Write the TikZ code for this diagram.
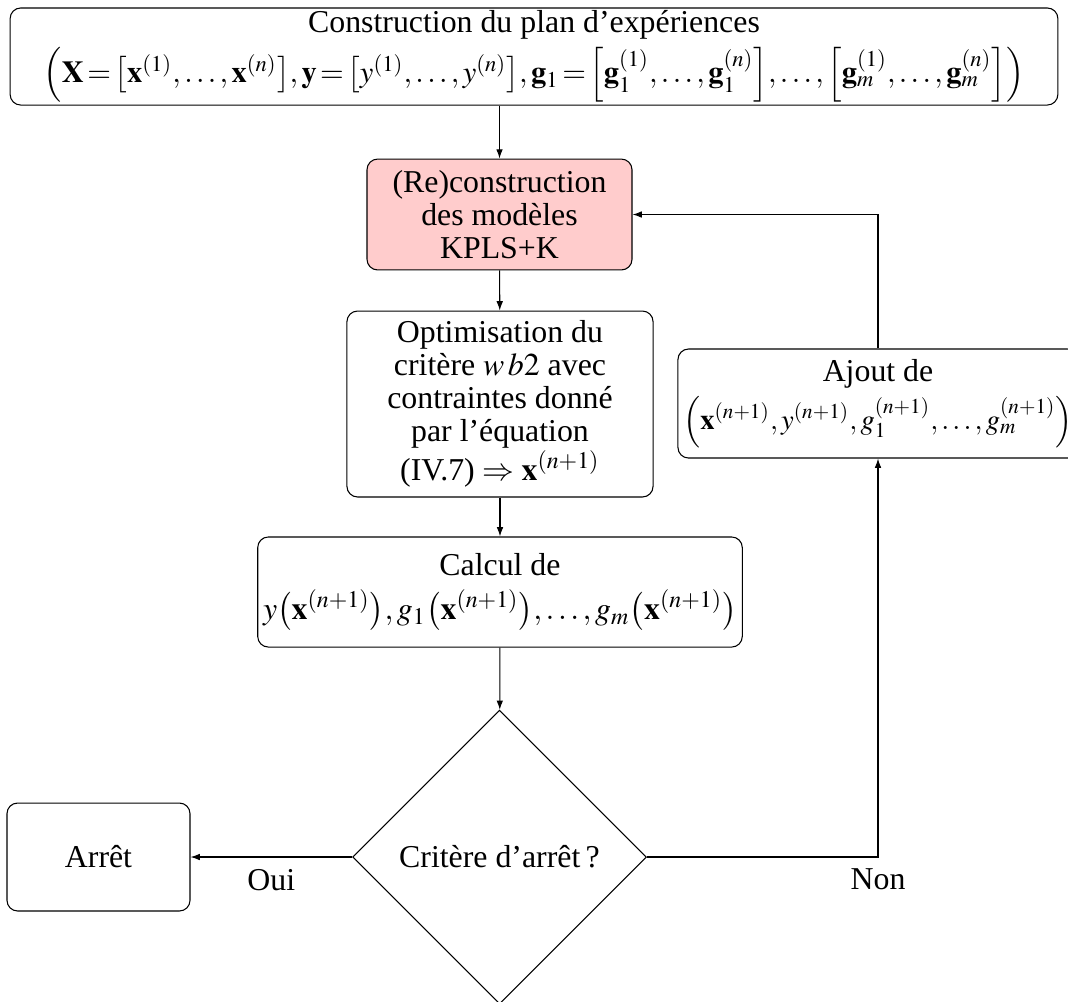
\documentclass[tikz,border=0pt]{standalone}
\usepackage{amsmath}
\usepackage{mathptmx}
\usepackage{fontspec}
\setmainfont{Liberation Serif}
\usetikzlibrary{shapes.geometric,arrows.meta}
\begin{document}
\begin{tikzpicture}[x=0.377pt,y=-0.377pt,
  every node/.style={font=\fontsize{12}{12.4}\selectfont},
  box/.style={draw, line width=0.4pt, rounded corners=4pt, align=center, inner sep=2pt},
  conn/.style={draw, line width=0.4pt, -{Latex[length=3.5pt,width=2.5pt]}}]
\useasboundingbox (0,0) rectangle (1068,1001);
\node[box, inner sep=1pt, minimum width=395pt, minimum height=35pt] (plan) at (534,56.5)
  {Construction du plan d'expériences\\[2pt]
   {\fontsize{11.5}{12}\selectfont$\Bigl(\mathbf{X}\!=\!\bigl[\mathbf{x}^{(1)},\ldots,\mathbf{x}^{(n)}\bigr],\mathbf{y}\!=\!\bigl[y^{(1)},\ldots,y^{(n)}\bigr],\mathbf{g}_1\!=\!\Bigl[\mathbf{g}_1^{(1)},\ldots,\mathbf{g}_1^{(n)}\Bigr],\ldots,\Bigl[\mathbf{g}_m^{(1)},\ldots,\mathbf{g}_m^{(n)}\Bigr]\Bigr)$}};
\node[box, fill=red!20, minimum width=99.9pt, minimum height=41.8pt] (recon) at (499.5,214.5)
  {(Re)construction\\des modèles\\KPLS+K};
\node[box, minimum width=115.4pt, minimum height=70.1pt] (optim) at (500,404)
  {Optimisation du\\critère $w\,b2$ avec\\contraintes donné\\par l'équation\\(IV.7) $\Rightarrow \mathbf{x}^{(n+1)}$};
\node[box, minimum width=167.4pt, minimum height=41.5pt] (calc) at (500,592)
  {Calcul de\\[4pt]$y\bigl(\mathbf{x}^{(n+1)}\bigr),g_1\bigl(\mathbf{x}^{(n+1)}\bigr),\ldots,g_m\bigl(\mathbf{x}^{(n+1)}\bigr)$};
\node[diamond, draw, line width=0.4pt, aspect=1, inner sep=0pt, minimum width=110.8pt, minimum height=110.8pt] (crit) at (499.5,857)
  {Critère d'arrêt\,?};
\node[box, minimum width=69pt, minimum height=40.7pt] (arret) at (98.5,857) {Arrêt};
\node[box, minimum width=149.3pt, minimum height=41.1pt] (ajout) at (878,403.5)
  {Ajout de\\[2pt]{\fontsize{10.8}{12}\selectfont$\Bigl(\mathbf{x}^{(n+1)},y^{(n+1)},g_1^{(n+1)},\ldots,g_m^{(n+1)}\Bigr)$}};
\path[conn] (plan.south -| recon.north) -- (recon.north);
\path[conn] (recon) -- (optim);
\path[conn] (optim) -- (calc);
\path[conn] (calc) -- (crit);
\path[conn] (crit.west) -- node[below, yshift=-1pt] (oui) {Oui} (arret.east);
\path[conn] (crit.east) -| node[pos=0.5, below, yshift=-1pt] (non) {Non} (ajout.south);
\path[conn] (ajout.north) |- (recon.east);
\end{tikzpicture}
\end{document}
